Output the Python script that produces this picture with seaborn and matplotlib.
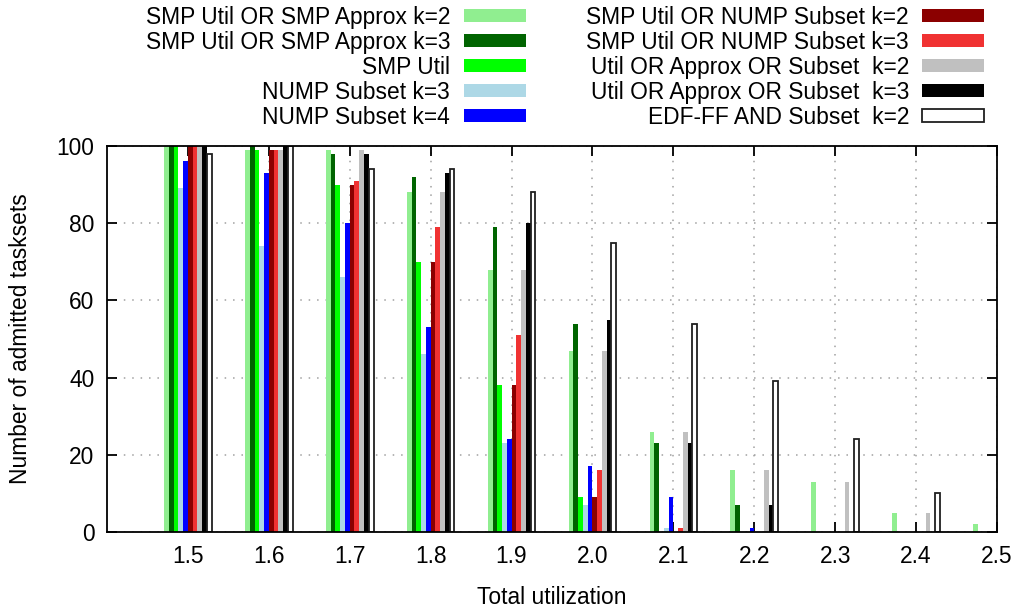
import numpy as np
import pandas as pd
import matplotlib
matplotlib.use("Agg")
import matplotlib.pyplot as plt
from matplotlib.patches import Rectangle
import seaborn as sns

# ---------------- data ----------------
utilization = [1.5, 1.6, 1.7, 1.8, 1.9, 2.0, 2.1, 2.2, 2.3, 2.4, 2.5]
tick_labels = ["1.5", "1.6", "1.7", "1.8", "1.9", "2.0", "2.1", "2.2", "2.3", "2.4", "2.5"]

series_labels = [
    "SMP Util OR SMP Approx k=2",
    "SMP Util OR SMP Approx k=3",
    "SMP Util",
    "NUMP Subset k=3",
    "NUMP Subset k=4",
    "SMP Util OR NUMP Subset k=2",
    "SMP Util OR NUMP Subset k=3",
    "Util OR Approx OR Subset  k=2",
    "Util OR Approx OR Subset  k=3",
    "EDF-FF AND Subset  k=2",
]
series_colors = ["#90ee90", "#006400", "#00ff00", "#add8e6", "#0000ff",
                 "#8b0000", "#f03232", "#c0c0c0", "#000000", "#ffffff"]

smp_approx_k2 = [100, 99, 99, 88, 68, 47, 26, 16, 13, 5, 2]
smp_approx_k3 = [100, 100, 98, 92, 79, 54, 23, 7, 0, 0, 0]
smp_util = [100, 99, 90, 70, 38, 9, 0, 0, 0, 0, 0]
nump_subset_k3 = [89, 74, 66, 46, 23, 7, 1, 0, 0, 0, 0]
nump_subset_k4 = [96, 93, 80, 53, 24, 17, 9, 1, 0, 0, 0]
smp_nump_k2 = [100, 99, 90, 70, 38, 9, 0, 0, 0, 0, 0]
smp_nump_k3 = [100, 99, 91, 79, 51, 16, 1, 0, 0, 0, 0]
all_k2 = [100, 99, 99, 88, 68, 47, 26, 16, 13, 5, 2]
all_k3 = [100, 100, 98, 93, 80, 55, 23, 7, 0, 0, 0]
edf_subset_k2 = [98, 100, 94, 94, 88, 75, 54, 39, 24, 10, 4]

series_values = [smp_approx_k2, smp_approx_k3, smp_util, nump_subset_k3, nump_subset_k4,
                 smp_nump_k2, smp_nump_k3, all_k2, all_k3, edf_subset_k2]

rows = []
for lab, vals in zip(series_labels, series_values):
    for u, v in zip(utilization, vals):
        rows.append({"util": u, "value": v, "series": lab})
df = pd.DataFrame(rows)

# ---------------- figure ----------------
plt.rcParams['font.family'] = ['Liberation Sans', 'DejaVu Sans']
FS = 16.4

W, H = 1016, 613
fig = plt.figure(figsize=(W / 100, H / 100), dpi=100)
L, R, T, B = 107, 997, 146, 532
ax = fig.add_axes([L / W, 1 - B / H, (R - L) / W, (B - T) / H])

sns.barplot(data=df, x="util", y="value", hue="series", hue_order=series_labels,
            palette=dict(zip(series_labels, series_colors)), native_scale=True,
            width=0.588, saturation=1, dodge=True, gap=0, errorbar=None,
            legend=False, ax=ax, linewidth=0)

for i, cont in enumerate(ax.containers):
    for p in cont.patches:
        if i == len(series_labels) - 1:
            p.set_edgecolor("#202020")
            p.set_linewidth(1.3)
        else:
            p.set_linewidth(0)

ax.set_xlim(1.4, 2.5)
ax.set_ylim(0, 100)
ax.set_xticks(utilization)
ax.set_xticklabels(tick_labels)
ax.set_yticks([0, 20, 40, 60, 80, 100])
ax.set_yticklabels(["0", "20", "40", "60", "80", "100"])

ax.set_axisbelow(True)
ax.grid(True, color="#a0a0a0", linestyle=(0, (1, 4.5)), linewidth=1.1)
for s in ax.spines.values():
    s.set_color("black")
    s.set_linewidth(1.3)
ax.tick_params(axis="both", direction="in", length=7, width=1.3, top=True, right=True,
               labelsize=FS, colors="black")
ax.tick_params(axis="x", pad=9.5)
ax.tick_params(axis="y", pad=9)

ax.set_xlabel("Total utilization", fontsize=FS)
ax.set_ylabel("Number of admitted tasksets", fontsize=FS)
ax.xaxis.set_label_coords(0.5, -0.14)
ax.yaxis.set_label_coords(-0.084, 0.5)

# ---------------- legend (gnuplot style: text right-aligned, swatch right) ----------------
col_text_right = [450, 909]
col_swatch_left = [464, 922]
swatch_w, swatch_h = 62, 13
baselines = [24, 49, 74, 99, 124]
for i, (lab, col) in enumerate(zip(series_labels, series_colors)):
    c = i // 5
    r = i % 5
    yb = baselines[r]
    fig.text(col_text_right[c] / W, 1 - yb / H, lab, ha="right", va="baseline",
             fontsize=FS, color="black")
    yc = yb - 8.5
    edge = "#202020" if col == "#ffffff" else col
    lw = 1.3 if col == "#ffffff" else 0
    rect = Rectangle((col_swatch_left[c] / W, 1 - (yc + swatch_h / 2) / H),
                     swatch_w / W, swatch_h / H, transform=fig.transFigure,
                     facecolor=col, edgecolor=edge, linewidth=lw)
    fig.add_artist(rect)

fig.savefig("out.png", dpi=100)
